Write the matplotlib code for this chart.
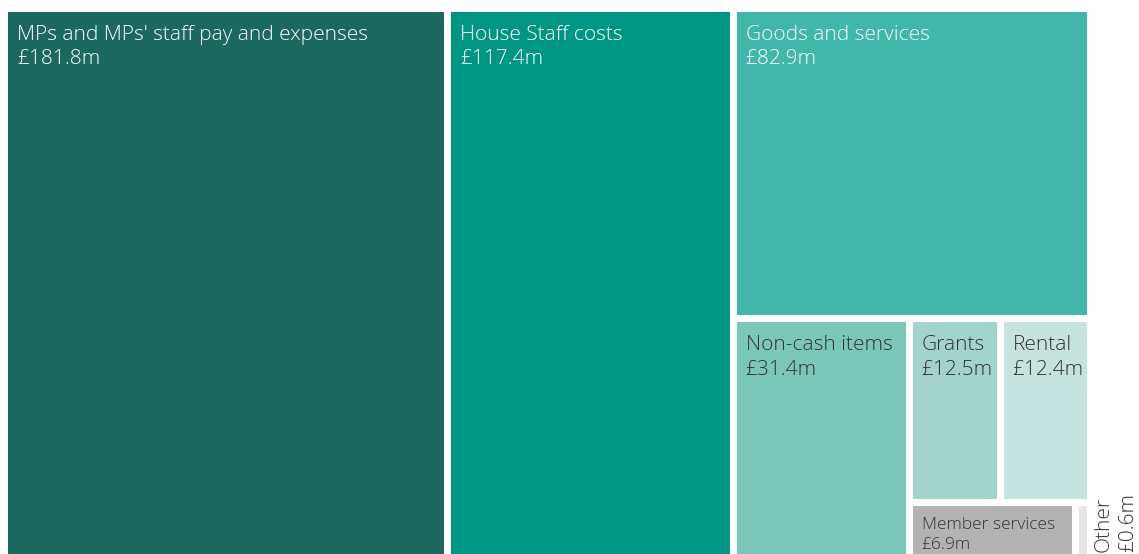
import matplotlib
matplotlib.use("Agg")
import matplotlib.pyplot as plt
from matplotlib.patches import Rectangle

# Data
labels = ["MPs and MPs' staff pay and expenses", "House Staff costs", "Goods and services",
          "Non-cash items", "Grants", "Rental", "Member services", "Other"]
values = [181.8, 117.4, 82.9, 31.4, 12.5, 12.4, 6.9, 0.6]
value_labels = ["£181.8m", "£117.4m", "£82.9m", "£31.4m", "£12.5m", "£12.4m", "£6.9m", "£0.6m"]
colors = ["#1b695e", "#019683", "#41b6aa", "#7bc8b9", "#a3d4cb", "#c5e4df", "#b3b3b3", "#e5e5e5"]
text_colors = ["white", "white", "white", "#333333", "#333333", "#333333", "#333333", "#333333"]

# Hierarchy of slices: ('h' = split left-right, 'v' = split top-bottom)
tree = ('h', [0, 1, ('v', [2, ('h', [3, ('v', [('h', [4, 5]), ('h', [6, 7])])])])])

def total(node):
    if isinstance(node, int):
        return values[node]
    return sum(total(c) for c in node[1])

rects = {}
def layout(node, x, y, w, h):
    if isinstance(node, int):
        rects[node] = (x, y, w, h)
        return
    orient, children = node
    t = total(node)
    pos = 0.0
    for c in children:
        frac = total(c) / t
        if orient == 'h':
            layout(c, x + pos * w, y, frac * w, h)
        else:
            layout(c, x, y + pos * h, w, frac * h)
        pos += frac

W, H = 1139, 554
fig = plt.figure(figsize=(W / 100, H / 100), dpi=100)
ax = fig.add_axes([0, 0, 1, 1])
ax.set_xlim(0, W)
ax.set_ylim(H, 0)
ax.axis('off')

gap = 3.5
layout(tree, 4.5, 8.5, 1086.0, 549.0)
renderer = fig.canvas.get_renderer()

font = ['Open Sans', 'DejaVu Sans']
for i in range(len(values)):
    x, y, w, h = rects[i]
    left, top = x + gap, y + gap
    right, bottom = x + w - gap, min(y + h - gap, H)
    ax.add_patch(Rectangle((left, top), w - 2 * gap, h - 2 * gap,
                           facecolor=colors[i], edgecolor='none'))
    if i < len(values) - 1:
        size = 15.0
        while True:
            off = max(3, min(13, (bottom - top) - 44 * size / 15))
            t = ax.text(left + 9, top + off, labels[i] + "\n" + value_labels[i],
                        ha='left', va='top', fontsize=size, color=text_colors[i],
                        family=font, fontweight='light', linespacing=1.3)
            bb = t.get_window_extent(renderer)
            fits_w = bb.width <= (right - left) - 12
            fits_h = (H - bb.y0) <= bottom - 1
            if (fits_w and fits_h) or size <= 9:
                break
            t.remove()
            size -= 0.5
    else:
        ax.text(x + w + 3, H - 2, labels[i] + "\n" + value_labels[i],
                ha='left', va='bottom', rotation=90, fontsize=15,
                color=text_colors[i], family=font, fontweight='light',
                linespacing=1.35)

fig.savefig("out.png", dpi=100)
